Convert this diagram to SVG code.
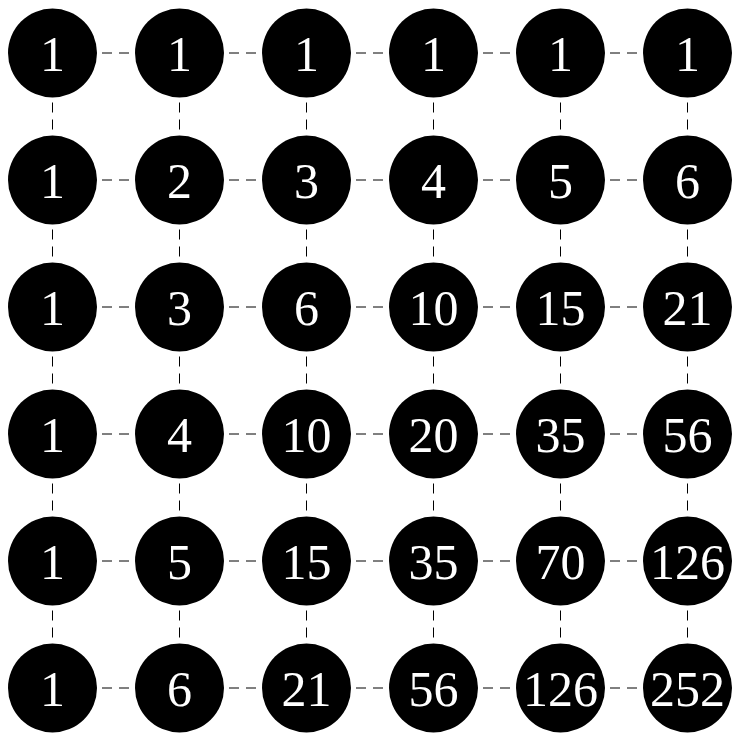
<svg xmlns="http://www.w3.org/2000/svg" width="735" height="733" viewBox="0 0 735 733">
<style>
.n circle{fill:#000}
.n text{fill:#fff;font-family:"Liberation Serif","Times New Roman",serif;font-size:50px;text-anchor:middle}
#edges line{stroke:#000;stroke-width:1;stroke-dasharray:10 7;stroke-dashoffset:1.5}
</style>
<rect width="735" height="733" fill="#fff"/>
<g id="edges">
<line x1="52.5" y1="53" x2="179.5" y2="53"/><line x1="179.5" y1="53" x2="306.5" y2="53"/><line x1="306.5" y1="53" x2="433.5" y2="53"/><line x1="433.5" y1="53" x2="560.5" y2="53"/><line x1="560.5" y1="53" x2="687.5" y2="53"/>
<line x1="52.5" y1="180" x2="179.5" y2="180"/><line x1="179.5" y1="180" x2="306.5" y2="180"/><line x1="306.5" y1="180" x2="433.5" y2="180"/><line x1="433.5" y1="180" x2="560.5" y2="180"/><line x1="560.5" y1="180" x2="687.5" y2="180"/>
<line x1="52.5" y1="307" x2="179.5" y2="307"/><line x1="179.5" y1="307" x2="306.5" y2="307"/><line x1="306.5" y1="307" x2="433.5" y2="307"/><line x1="433.5" y1="307" x2="560.5" y2="307"/><line x1="560.5" y1="307" x2="687.5" y2="307"/>
<line x1="52.5" y1="434" x2="179.5" y2="434"/><line x1="179.5" y1="434" x2="306.5" y2="434"/><line x1="306.5" y1="434" x2="433.5" y2="434"/><line x1="433.5" y1="434" x2="560.5" y2="434"/><line x1="560.5" y1="434" x2="687.5" y2="434"/>
<line x1="52.5" y1="561" x2="179.5" y2="561"/><line x1="179.5" y1="561" x2="306.5" y2="561"/><line x1="306.5" y1="561" x2="433.5" y2="561"/><line x1="433.5" y1="561" x2="560.5" y2="561"/><line x1="560.5" y1="561" x2="687.5" y2="561"/>
<line x1="52.5" y1="688" x2="179.5" y2="688"/><line x1="179.5" y1="688" x2="306.5" y2="688"/><line x1="306.5" y1="688" x2="433.5" y2="688"/><line x1="433.5" y1="688" x2="560.5" y2="688"/><line x1="560.5" y1="688" x2="687.5" y2="688"/>
<line x1="52.5" y1="53" x2="52.5" y2="180"/><line x1="52.5" y1="180" x2="52.5" y2="307"/><line x1="52.5" y1="307" x2="52.5" y2="434"/><line x1="52.5" y1="434" x2="52.5" y2="561"/><line x1="52.5" y1="561" x2="52.5" y2="688"/>
<line x1="179.5" y1="53" x2="179.5" y2="180"/><line x1="179.5" y1="180" x2="179.5" y2="307"/><line x1="179.5" y1="307" x2="179.5" y2="434"/><line x1="179.5" y1="434" x2="179.5" y2="561"/><line x1="179.5" y1="561" x2="179.5" y2="688"/>
<line x1="306.5" y1="53" x2="306.5" y2="180"/><line x1="306.5" y1="180" x2="306.5" y2="307"/><line x1="306.5" y1="307" x2="306.5" y2="434"/><line x1="306.5" y1="434" x2="306.5" y2="561"/><line x1="306.5" y1="561" x2="306.5" y2="688"/>
<line x1="433.5" y1="53" x2="433.5" y2="180"/><line x1="433.5" y1="180" x2="433.5" y2="307"/><line x1="433.5" y1="307" x2="433.5" y2="434"/><line x1="433.5" y1="434" x2="433.5" y2="561"/><line x1="433.5" y1="561" x2="433.5" y2="688"/>
<line x1="560.5" y1="53" x2="560.5" y2="180"/><line x1="560.5" y1="180" x2="560.5" y2="307"/><line x1="560.5" y1="307" x2="560.5" y2="434"/><line x1="560.5" y1="434" x2="560.5" y2="561"/><line x1="560.5" y1="561" x2="560.5" y2="688"/>
<line x1="687.5" y1="53" x2="687.5" y2="180"/><line x1="687.5" y1="180" x2="687.5" y2="307"/><line x1="687.5" y1="307" x2="687.5" y2="434"/><line x1="687.5" y1="434" x2="687.5" y2="561"/><line x1="687.5" y1="561" x2="687.5" y2="688"/>
</g>
<g id="n00" class="n"><circle cx="52.5" cy="53" r="44.5"/><text x="52.5" y="71">1</text></g>
<g id="n01" class="n"><circle cx="179.5" cy="53" r="44.5"/><text x="179.5" y="71">1</text></g>
<g id="n02" class="n"><circle cx="306.5" cy="53" r="44.5"/><text x="306.5" y="71">1</text></g>
<g id="n03" class="n"><circle cx="433.5" cy="53" r="44.5"/><text x="433.5" y="71">1</text></g>
<g id="n04" class="n"><circle cx="560.5" cy="53" r="44.5"/><text x="560.5" y="71">1</text></g>
<g id="n05" class="n"><circle cx="687.5" cy="53" r="44.5"/><text x="687.5" y="71">1</text></g>
<g id="n10" class="n"><circle cx="52.5" cy="180" r="44.5"/><text x="52.5" y="198">1</text></g>
<g id="n11" class="n"><circle cx="179.5" cy="180" r="44.5"/><text x="179.5" y="198">2</text></g>
<g id="n12" class="n"><circle cx="306.5" cy="180" r="44.5"/><text x="306.5" y="198">3</text></g>
<g id="n13" class="n"><circle cx="433.5" cy="180" r="44.5"/><text x="433.5" y="198">4</text></g>
<g id="n14" class="n"><circle cx="560.5" cy="180" r="44.5"/><text x="560.5" y="198">5</text></g>
<g id="n15" class="n"><circle cx="687.5" cy="180" r="44.5"/><text x="687.5" y="198">6</text></g>
<g id="n20" class="n"><circle cx="52.5" cy="307" r="44.5"/><text x="52.5" y="325">1</text></g>
<g id="n21" class="n"><circle cx="179.5" cy="307" r="44.5"/><text x="179.5" y="325">3</text></g>
<g id="n22" class="n"><circle cx="306.5" cy="307" r="44.5"/><text x="306.5" y="325">6</text></g>
<g id="n23" class="n"><circle cx="433.5" cy="307" r="44.5"/><text x="433.5" y="325">10</text></g>
<g id="n24" class="n"><circle cx="560.5" cy="307" r="44.5"/><text x="560.5" y="325">15</text></g>
<g id="n25" class="n"><circle cx="687.5" cy="307" r="44.5"/><text x="687.5" y="325">21</text></g>
<g id="n30" class="n"><circle cx="52.5" cy="434" r="44.5"/><text x="52.5" y="452">1</text></g>
<g id="n31" class="n"><circle cx="179.5" cy="434" r="44.5"/><text x="179.5" y="452">4</text></g>
<g id="n32" class="n"><circle cx="306.5" cy="434" r="44.5"/><text x="306.5" y="452">10</text></g>
<g id="n33" class="n"><circle cx="433.5" cy="434" r="44.5"/><text x="433.5" y="452">20</text></g>
<g id="n34" class="n"><circle cx="560.5" cy="434" r="44.5"/><text x="560.5" y="452">35</text></g>
<g id="n35" class="n"><circle cx="687.5" cy="434" r="44.5"/><text x="687.5" y="452">56</text></g>
<g id="n40" class="n"><circle cx="52.5" cy="561" r="44.5"/><text x="52.5" y="579">1</text></g>
<g id="n41" class="n"><circle cx="179.5" cy="561" r="44.5"/><text x="179.5" y="579">5</text></g>
<g id="n42" class="n"><circle cx="306.5" cy="561" r="44.5"/><text x="306.5" y="579">15</text></g>
<g id="n43" class="n"><circle cx="433.5" cy="561" r="44.5"/><text x="433.5" y="579">35</text></g>
<g id="n44" class="n"><circle cx="560.5" cy="561" r="44.5"/><text x="560.5" y="579">70</text></g>
<g id="n45" class="n"><circle cx="687.5" cy="561" r="44.5"/><text x="687.5" y="579">126</text></g>
<g id="n50" class="n"><circle cx="52.5" cy="688" r="44.5"/><text x="52.5" y="706">1</text></g>
<g id="n51" class="n"><circle cx="179.5" cy="688" r="44.5"/><text x="179.5" y="706">6</text></g>
<g id="n52" class="n"><circle cx="306.5" cy="688" r="44.5"/><text x="306.5" y="706">21</text></g>
<g id="n53" class="n"><circle cx="433.5" cy="688" r="44.5"/><text x="433.5" y="706">56</text></g>
<g id="n54" class="n"><circle cx="560.5" cy="688" r="44.5"/><text x="560.5" y="706">126</text></g>
<g id="n55" class="n"><circle cx="687.5" cy="688" r="44.5"/><text x="687.5" y="706">252</text></g>
</svg>
